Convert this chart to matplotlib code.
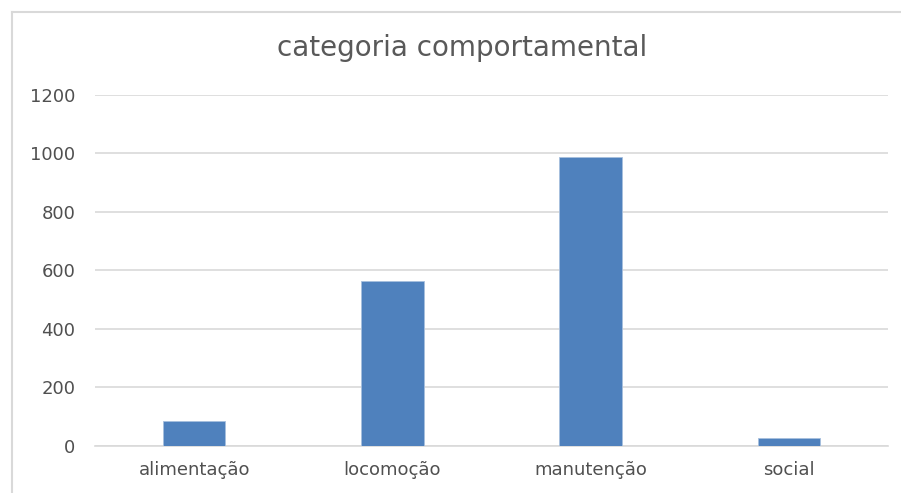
import matplotlib
matplotlib.use("Agg")
import matplotlib.pyplot as plt
from matplotlib.lines import Line2D

categories = ["alimentação", "locomoção", "manutenção", "social"]
values = [85, 564, 989, 25]
yticks = [0, 200, 400, 600, 800, 1000, 1200]
title = "categoria comportamental"

W, H = 901, 493
fig = plt.figure(figsize=(W / 100, H / 100), dpi=100)
fig.patch.set_facecolor("white")

ax = fig.add_axes([95 / W, 1 - 445.7 / H, (888 - 95) / W, (445.7 - 95) / H])
x = range(len(categories))
ax.bar(x, values, width=0.315, color="#4F81BD", edgecolor="#A7BFDE", linewidth=0.6, zorder=3)
ax.set_xlim(-0.5, len(categories) - 0.5)
ax.set_ylim(0, 1200)
ax.set_yticks(yticks)
ax.set_yticklabels([str(v) for v in yticks])
ax.set_xticks(list(x))
ax.set_xticklabels(categories)
ax.yaxis.grid(True, color="#D9D9D9", linewidth=1.2, zorder=0)
for s in ["top", "right", "left"]:
    ax.spines[s].set_visible(False)
ax.spines["bottom"].set_color("#D9D9D9")
ax.spines["bottom"].set_linewidth(1.2)
ax.tick_params(axis="both", length=0, colors="#505050", labelsize=13)
ax.tick_params(axis="y", pad=14)
ax.tick_params(axis="x", pad=11)
for lab in ax.get_xticklabels() + ax.get_yticklabels():
    lab.set_family("DejaVu Sans")

fig.text(462 / W, 1 - 48 / H, title, ha="center", va="center",
         fontsize=20, color="#595959", family="DejaVu Sans")

# chart border (left and top visible)
fig.add_artist(Line2D([12 / W, 12 / W], [0, 1 - 12 / H], transform=fig.transFigure,
                      color="#D9D9D9", linewidth=1.5))
fig.add_artist(Line2D([12 / W, 1], [1 - 12 / H, 1 - 12 / H], transform=fig.transFigure,
                      color="#D9D9D9", linewidth=1.5))

fig.savefig("out.png", dpi=100)
